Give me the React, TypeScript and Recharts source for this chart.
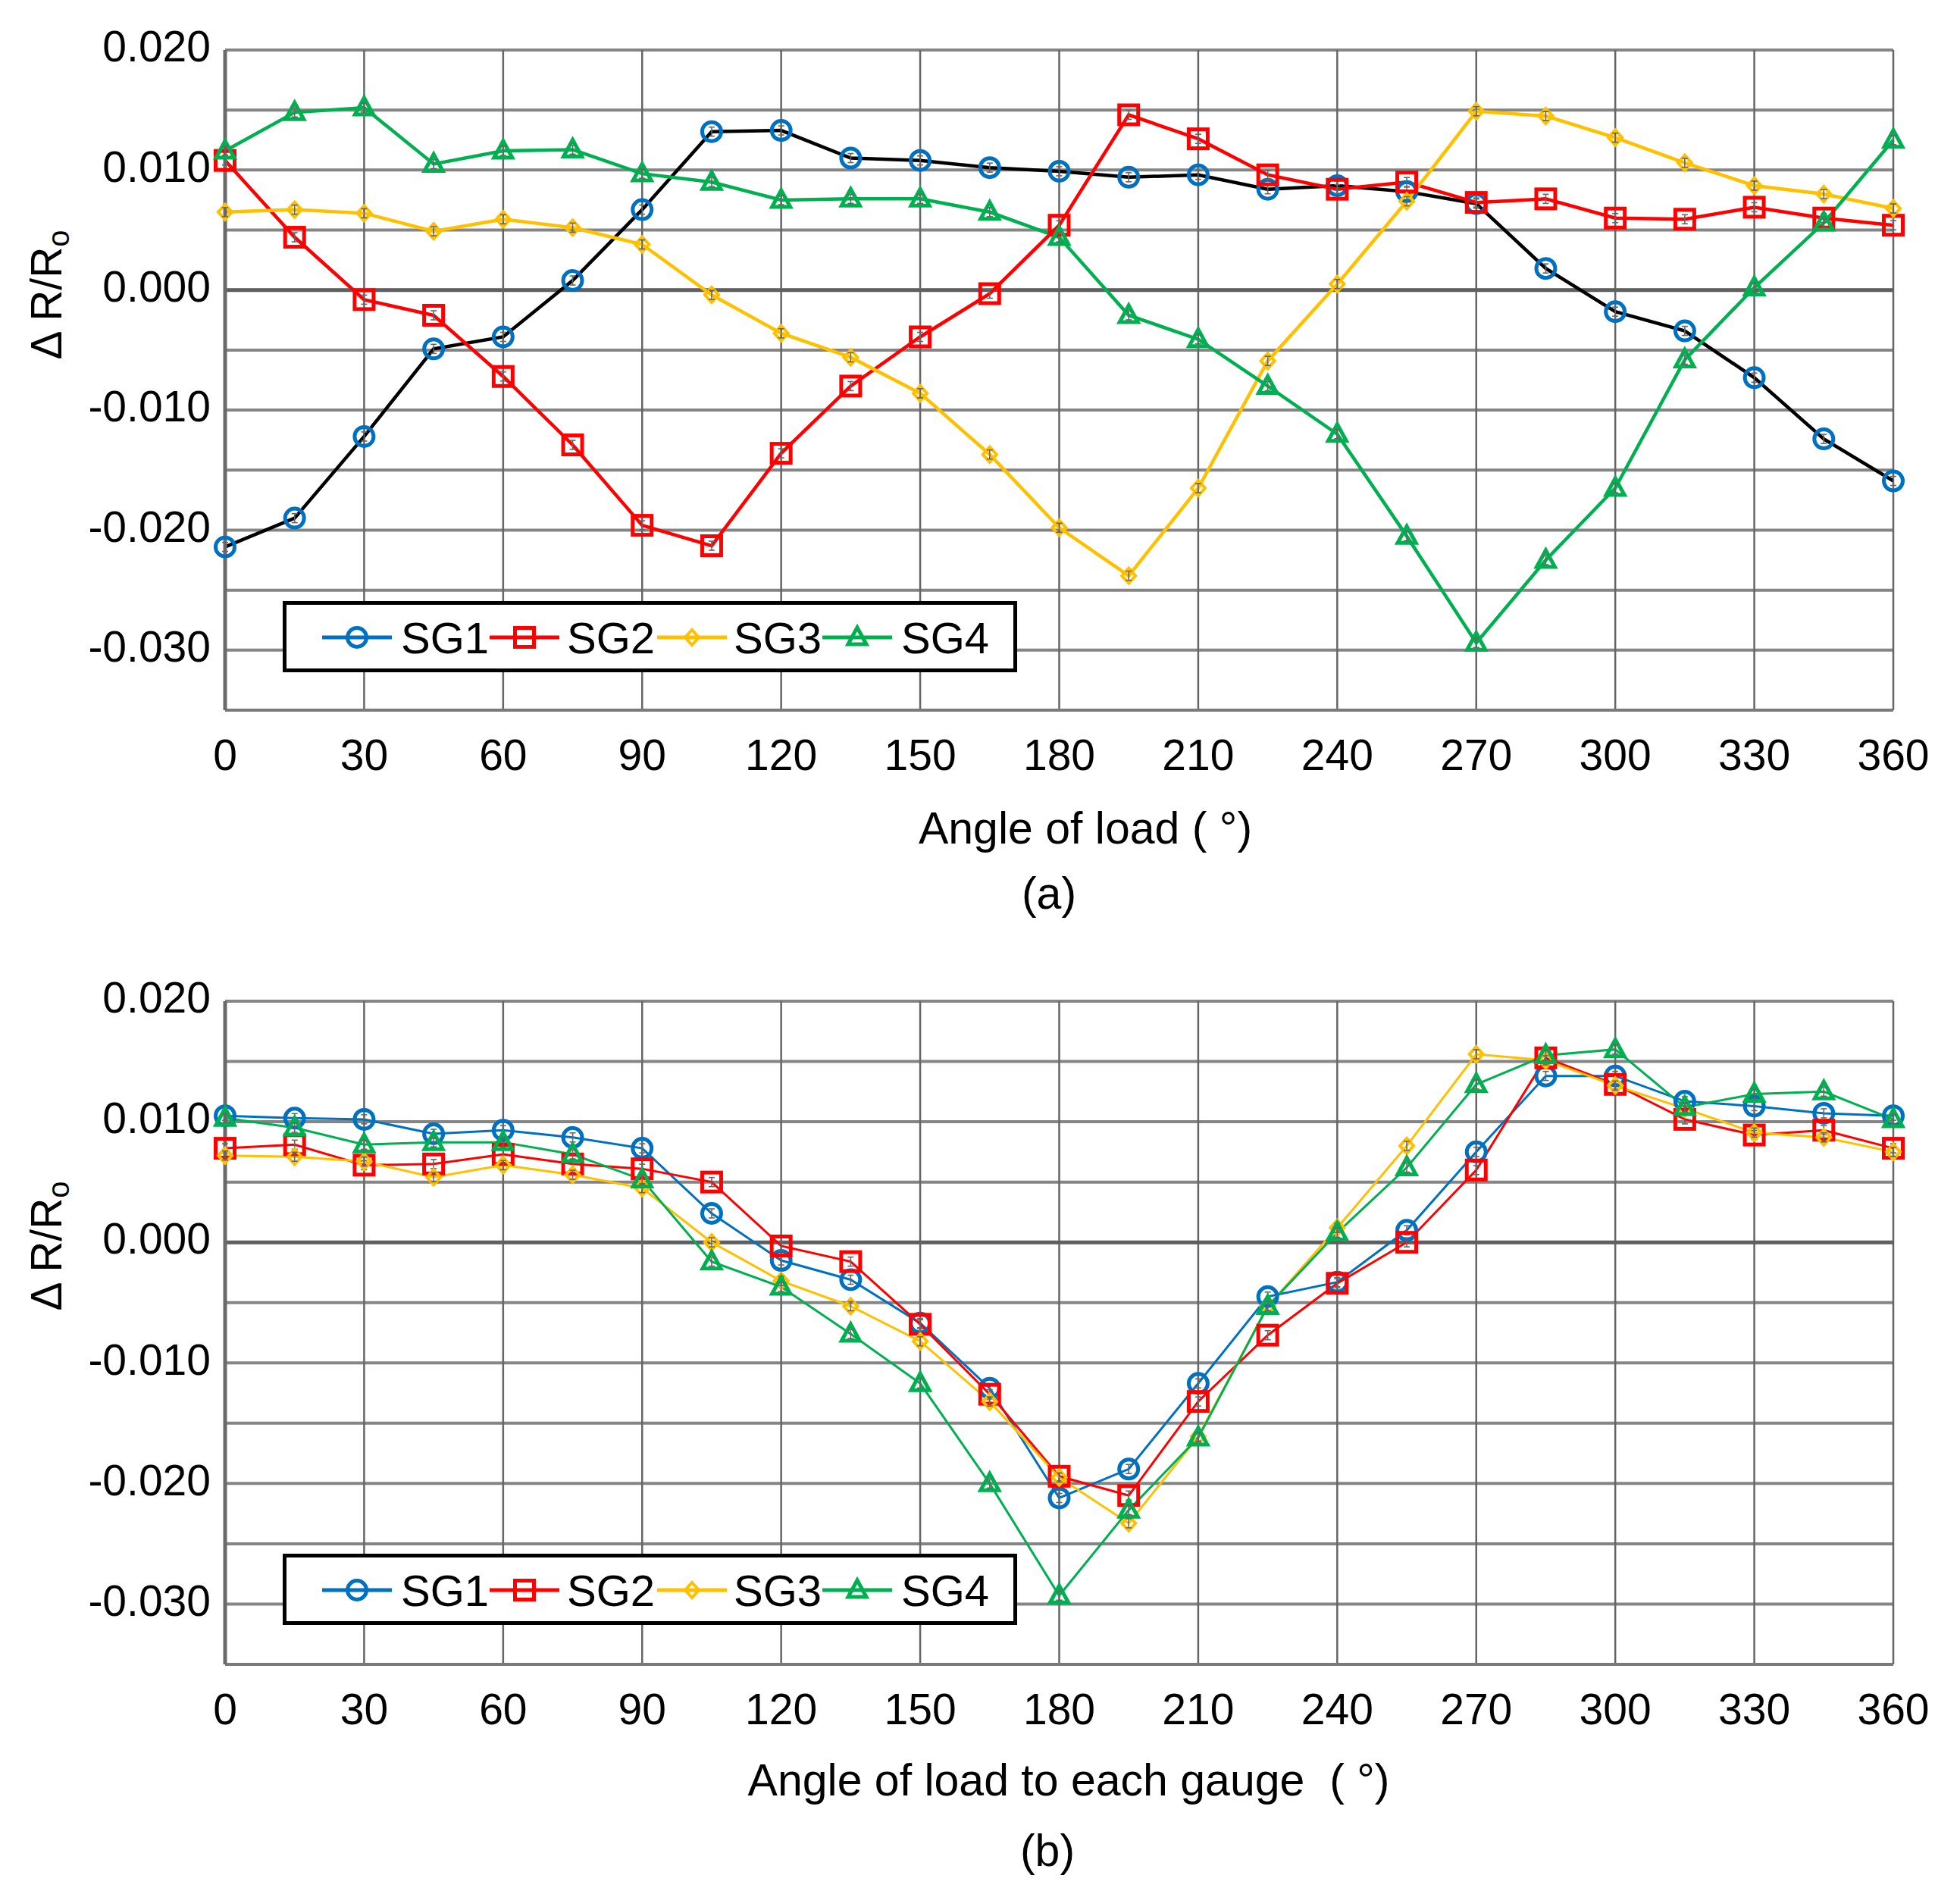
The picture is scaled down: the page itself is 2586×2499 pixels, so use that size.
import React from "react";
import { LineChart, Line, XAxis, YAxis, CartesianGrid, ReferenceLine } from "recharts";

const angles = [0, 15, 30, 45, 60, 75, 90, 105, 120, 135, 150, 165, 180, 195, 210, 225, 240, 255, 270, 285, 300, 315, 330, 345, 360];
const xTicks = [0, 30, 60, 90, 120, 150, 180, 210, 240, 270, 300, 330, 360];
const yTicks = [-0.035, -0.03, -0.025, -0.02, -0.015, -0.01, -0.005, 0, 0.005, 0.01, 0.015, 0.02];
const seriesNames = ["SG1", "SG2", "SG3", "SG4"];
const seriesColors = ["#0070C0", "#FF0000", "#FFC000", "#00B050"];
const seriesShapes = ["circle", "square", "diamond", "triangle"];

// (a) Angle of load
const topSG1 = [-0.0214, -0.019, -0.0122, -0.0049, -0.0039, 0.0008, 0.0067, 0.0132, 0.0133, 0.011, 0.0108, 0.0102, 0.0099, 0.0094, 0.0096, 0.0084, 0.0087, 0.0082, 0.0072, 0.0018, -0.0018, -0.0034, -0.0073, -0.0124, -0.0159];
const topSG2 = [0.0108, 0.0044, -0.0008, -0.0021, -0.0072, -0.0129, -0.0196, -0.0213, -0.0136, -0.008, -0.0039, -0.0003, 0.0054, 0.0146, 0.0126, 0.0096, 0.0084, 0.009, 0.0073, 0.0076, 0.006, 0.0059, 0.0069, 0.006, 0.0054];
const topSG3 = [0.0065, 0.0067, 0.0064, 0.0049, 0.0059, 0.0052, 0.0038, -0.0004, -0.0036, -0.0056, -0.0086, -0.0137, -0.0198, -0.0238, -0.0165, -0.0059, 0.0005, 0.0074, 0.0149, 0.0145, 0.0127, 0.0106, 0.0087, 0.008, 0.0068];
const topSG4 = [0.0116, 0.0148, 0.0152, 0.0105, 0.0116, 0.0117, 0.0097, 0.009, 0.0075, 0.0076, 0.0076, 0.0065, 0.0044, -0.0021, -0.0041, -0.008, -0.012, -0.0205, -0.0294, -0.0225, -0.0165, -0.0058, 0.0002, 0.0056, 0.0125];

// (b) Angle of load to each gauge
const botSG1 = [0.0105, 0.0103, 0.0102, 0.009, 0.0093, 0.0087, 0.0078, 0.0024, -0.0015, -0.0031, -0.0067, -0.0121, -0.0212, -0.0188, -0.0117, -0.0045, -0.0033, 0.001, 0.0075, 0.0138, 0.0138, 0.0117, 0.0113, 0.0107, 0.0105];
const botSG2 = [0.0078, 0.0081, 0.0064, 0.0065, 0.0073, 0.0065, 0.0061, 0.005, -0.0003, -0.0016, -0.0068, -0.0126, -0.0194, -0.021, -0.0132, -0.0077, -0.0034, 0.0, 0.006, 0.0153, 0.0131, 0.0102, 0.0089, 0.0093, 0.0078];
const botSG3 = [0.0072, 0.0071, 0.0067, 0.0054, 0.0064, 0.0056, 0.0045, 0.0, -0.0032, -0.0053, -0.0082, -0.0132, -0.0195, -0.0233, -0.0161, -0.0053, 0.0012, 0.008, 0.0156, 0.0151, 0.013, 0.0111, 0.0091, 0.0087, 0.0075];
const botSG4 = [0.0103, 0.0095, 0.0081, 0.0083, 0.0083, 0.0073, 0.0052, -0.0016, -0.0037, -0.0076, -0.0117, -0.02, -0.0293, -0.0222, -0.0162, -0.0053, 0.0008, 0.0062, 0.0131, 0.0155, 0.016, 0.0112, 0.0123, 0.0125, 0.0102];

const topData = angles.map((a, i) => ({ angle: a, SG1: topSG1[i], SG2: topSG2[i], SG3: topSG3[i], SG4: topSG4[i] }));
const botData = angles.map((a, i) => ({ angle: a, SG1: botSG1[i], SG2: botSG2[i], SG3: botSG3[i], SG4: botSG4[i] }));

const FONT = "'Liberation Sans', Arial, sans-serif";

function markerShape(shape: string, cx: number, cy: number, color: string) {
  if (shape === "circle") return <circle cx={cx} cy={cy} r={12.5} fill="none" stroke={color} strokeWidth={5} />;
  if (shape === "square") return <rect x={cx - 12.5} y={cy - 12.5} width={25} height={25} fill="none" stroke={color} strokeWidth={5} />;
  if (shape === "diamond")
    return <polygon points={`${cx},${cy - 10} ${cx + 9},${cy} ${cx},${cy + 10} ${cx - 9},${cy}`} fill="none" stroke={color} strokeWidth={4} />;
  return <polygon points={`${cx},${cy - 13} ${cx + 12},${cy + 9} ${cx - 12},${cy + 9}`} fill="none" stroke={color} strokeWidth={5} />;
}

function markerEl(shape: string, cx: number, cy: number, color: string, key?: any, withBar?: boolean) {
  return (
    <g key={key}>
      {markerShape(shape, cx, cy, color)}
      {withBar ? (
        <g stroke="#666" strokeWidth={1.6}>
          <line x1={cx} x2={cx} y1={cy - 6} y2={cy + 6} />
          <line x1={cx - 4} x2={cx + 4} y1={cy - 6} y2={cy - 6} />
          <line x1={cx - 4} x2={cx + 4} y1={cy + 6} y2={cy + 6} />
        </g>
      ) : null}
    </g>
  );
}

const makeDot = (shape: string, color: string) => (p: any) => {
  if (p.cx == null || p.cy == null) return <g key={`e${p.index}`} />;
  return markerEl(shape, p.cx, p.cy, color, `${shape}${p.index}`, true);
};

const yFmt = (v: number) => {
  const k = Math.round(v * 1000);
  return k % 10 === 0 ? v.toFixed(3) : "";
};

function Panel({ data, height, marginTop, xHeight, lineColors, lineWidth }: any) {
  return (
    <LineChart width={2586} height={height} data={data} margin={{ top: marginTop, right: 88, bottom: 0, left: 0 }}>
      <CartesianGrid vertical={false} stroke="#858585" strokeWidth={4} />
      <CartesianGrid horizontal={false} stroke="#666666" strokeWidth={2.5} />
      <XAxis
        dataKey="angle"
        type="number"
        domain={[0, 360]}
        ticks={xTicks}
        interval={0}
        tickLine={false}
        tickMargin={33}
        height={xHeight}
        axisLine={{ stroke: "#7a7a7a", strokeWidth: 4 }}
        tick={{ fill: "#000", fontSize: 57, fontFamily: FONT }}
      />
      <YAxis
        type="number"
        domain={[-0.035, 0.02]}
        ticks={yTicks}
        interval={0}
        tickLine={false}
        tickMargin={13}
        width={297}
        tickFormatter={yFmt}
        axisLine={{ stroke: "#6a6a6a", strokeWidth: 5 }}
        tick={{ fill: "#000", fontSize: 57, fontFamily: FONT, dy: -5 }}
      />
      <ReferenceLine y={0} stroke="#5f5f5f" strokeWidth={5} />
      {seriesNames.map((n, i) => (
        <Line
          key={n}
          dataKey={n}
          type="linear"
          stroke={lineColors[i]}
          strokeWidth={lineWidth}
          dot={makeDot(seriesShapes[i], seriesColors[i])}
          activeDot={false}
          isAnimationActive={false}
        />
      ))}
    </LineChart>
  );
}

function LegendBox({ left, top }: { left: number; top: number }) {
  const lineStarts = [52, 273, 494, 712];
  const textStarts = [156, 375, 595, 816];
  return (
    <svg width={969} height={94} style={{ position: "absolute", left, top }}>
      <rect x={2.5} y={2.5} width={964} height={89} fill="#fff" stroke="#000" strokeWidth={5} />
      {seriesNames.map((n, i) => (
        <g key={n}>
          <line x1={lineStarts[i]} x2={lineStarts[i] + 92} y1={48} y2={48} stroke={seriesColors[i]} strokeWidth={5} />
          {markerEl(seriesShapes[i], lineStarts[i] + 46, 48, seriesColors[i])}
          <text x={textStarts[i]} y={69} fontSize={58} fontFamily={FONT} fill="#000">
            {n}
          </text>
        </g>
      ))}
    </svg>
  );
}

export default function App() {
  return (
    <div style={{ position: "absolute", left: 0, top: 0, width: 2586, height: 2499, background: "#fff", fontFamily: FONT }}>
      <div style={{ position: "absolute", left: 0, top: 0 }}>
        <Panel data={topData} height={1250} marginTop={66} xHeight={313} lineColors={["#000000", "#FF0000", "#FFC000", "#00B050"]} lineWidth={4.5} />
      </div>
      <div style={{ position: "absolute", left: 0, top: 1250 }}>
        <Panel data={botData} height={1249} marginTop={71} xHeight={303} lineColors={seriesColors} lineWidth={3} />
      </div>
      <LegendBox left={373} top={793} />
      <LegendBox left={373} top={2050} />
      <svg width={2586} height={2499} style={{ position: "absolute", left: 0, top: 0, pointerEvents: "none" }}>
        <g fontFamily={FONT} fill="#000">
          <text x={1432} y={1113} fontSize={59} textAnchor="middle">Angle of load ( °)</text>
          <text x={1384} y={1199} fontSize={59} textAnchor="middle">(a)</text>
          <text x={1410} y={2369} fontSize={59} textAnchor="middle" style={{ whiteSpace: "pre" }}>{"Angle of load to each gauge  ( °)"}</text>
          <text x={1382} y={2462} fontSize={59} textAnchor="middle">(b)</text>
          <text transform="translate(81,389) rotate(-90)" fontSize={57} textAnchor="middle">
            Δ R/R<tspan fontSize={40} dy={10}>o</tspan>
          </text>
          <text transform="translate(81,1644) rotate(-90)" fontSize={57} textAnchor="middle">
            Δ R/R<tspan fontSize={40} dy={10}>o</tspan>
          </text>
        </g>
      </svg>
    </div>
  );
}
